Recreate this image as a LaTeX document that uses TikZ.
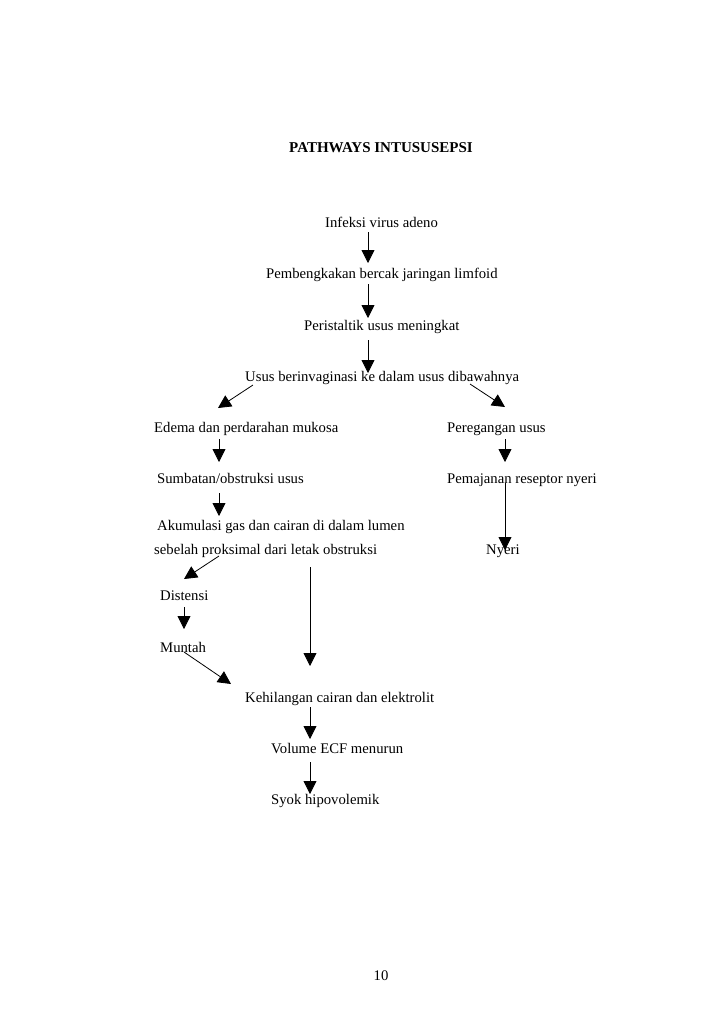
\documentclass[tikz,border=0pt]{standalone}
\usepackage{fontspec}
\setmainfont{Liberation Serif}
\usetikzlibrary{arrows.meta}
\begin{document}
\begin{tikzpicture}[x=1pt,y=-1pt,
  lbl/.style={anchor=base west,inner sep=0pt,font=\fontsize{14.7}{16}\selectfont},
  arr/.style={line width=0.8pt,-{Triangle[length=13pt,width=13pt]}}]
\useasboundingbox[fill=white] (0,0) rectangle (728,1031);
\node[anchor=base,inner sep=0pt,font=\fontsize{15}{16}\selectfont\bfseries] (title) at (381,152) {PATHWAYS INTUSUSEPSI};
\node[lbl] (n1) at (325,227) {Infeksi virus adeno};
\node[lbl] (n2) at (266,278) {Pembengkakan bercak jaringan limfoid};
\node[lbl] (n3) at (304,330) {Peristaltik usus meningkat};
\node[lbl] (n4) at (245,381) {Usus berinvaginasi ke dalam usus dibawahnya};
\node[lbl] (l1) at (154,432) {Edema dan perdarahan mukosa};
\node[lbl] (r1) at (447,432) {Peregangan usus};
\node[lbl] (l2) at (157,483) {Sumbatan/obstruksi usus};
\node[lbl] (r2) at (447,483) {Pemajanan reseptor nyeri};
\node[lbl] (l3) at (157,530) {Akumulasi gas dan cairan di dalam lumen};
\node[lbl] (l3b) at (154,554) {sebelah proksimal dari letak obstruksi};
\node[lbl] (r3) at (486,554) {Nyeri};
\node[lbl] (d1) at (160,600) {Distensi};
\node[lbl] (d2) at (160,652) {Muntah};
\node[lbl] (k1) at (245,702) {Kehilangan cairan dan elektrolit};
\node[lbl] (k2) at (271,753) {Volume ECF menurun};
\node[lbl] (k3) at (271,804) {Syok hipovolemik};
\node[anchor=base,inner sep=0pt,font=\fontsize{14.7}{16}\selectfont] (pg) at (381,980) {10};
% connector endpoints
\coordinate (a1s) at (368,232); \coordinate (a1e) at (368,263);
\coordinate (a2s) at (368,284); \coordinate (a2e) at (368,318);
\coordinate (a3s) at (368,340); \coordinate (a3e) at (368,373);
\coordinate (a4s) at (253,385); \coordinate (a4e) at (218,408);
\coordinate (a5s) at (470,384); \coordinate (a5e) at (505,407);
\coordinate (a6s) at (219,439); \coordinate (a6e) at (219,462);
\coordinate (a7s) at (505,439); \coordinate (a7e) at (505,462);
\coordinate (a8s) at (219,493); \coordinate (a8e) at (219,516);
\coordinate (a9s) at (505,483); \coordinate (a9e) at (505,550);
\coordinate (a10s) at (219,556); \coordinate (a10e) at (184,579);
\coordinate (a11s) at (310,567); \coordinate (a11e) at (310,666);
\coordinate (a12s) at (184,607); \coordinate (a12e) at (184,629);
\coordinate (a13s) at (184,652); \coordinate (a13e) at (231,684);
\coordinate (a14s) at (310,707); \coordinate (a14e) at (310,739);
\coordinate (a15s) at (310,762); \coordinate (a15e) at (310,794);
\foreach \i in {1,...,15} \draw[arr] (a\i s) -- (a\i e);
\end{tikzpicture}
\end{document}
